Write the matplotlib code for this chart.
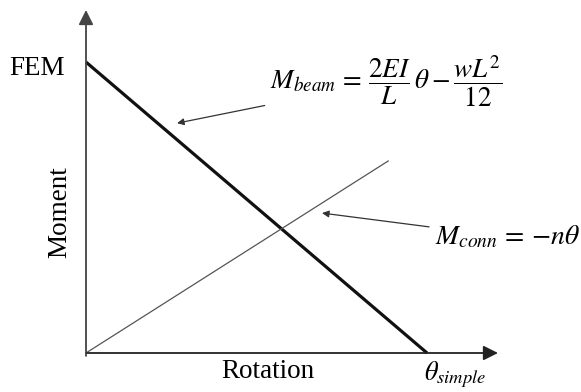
import numpy as np
import matplotlib.pyplot as plt

plt.rcParams['font.family'] = ['Liberation Serif', 'DejaVu Serif']
plt.rcParams['mathtext.fontset'] = 'stix'

# normalised values: rotation in units of theta_simple, moment in units of FEM
theta_simple = 1.0
fem = 1.0
beam_theta = [0.0, theta_simple]
beam_moment = [fem, 0.0]
conn_theta = [0.0, 0.886]
conn_moment = [0.0, 0.66]

x_max = 1.208
y_max = 1.179

fig = plt.figure(figsize=(5.81, 3.92), dpi=100)
ax = fig.add_axes([86 / 581, 39 / 392, 412 / 581, 343 / 392])
ax.set_xlim(0, x_max)
ax.set_ylim(0, y_max)
ax.axis('off')

# axes arrows
ax.annotate('', xy=(x_max, 0), xytext=(0, 0), annotation_clip=False,
            arrowprops=dict(arrowstyle='-|>', lw=1.3, color='#222',
                            mutation_scale=22, shrinkA=0, shrinkB=0))
ax.annotate('', xy=(0, y_max), xytext=(0, -0.01), annotation_clip=False,
            arrowprops=dict(arrowstyle='-|>', lw=1.3, color='#444',
                            mutation_scale=22, shrinkA=0, shrinkB=0))

ax.plot(beam_theta, beam_moment, color='#111', lw=2.3, solid_capstyle='butt', clip_on=False)
ax.plot(conn_theta, conn_moment, color='#555', lw=0.9, clip_on=False)

ax.text(-0.062, 0.979, 'FEM', ha='right', va='center', fontsize=19.5)
ax.text(-0.078, 0.485, 'Moment', ha='center', va='center', rotation=90, fontsize=19.5)
ax.text(0.533, -0.065, 'Rotation', ha='center', va='center', fontsize=19.5)
ax.text(0.99, -0.075, r'$\theta_{simple}$', ha='left', va='center', fontsize=19)

ax.annotate(r'$M_{beam}\,=\,\dfrac{2EI}{L}\,\theta - \dfrac{wL^2}{12}$',
            xy=(0.267, 0.79), xytext=(0.54, 0.935), ha='left', va='center',
            fontsize=19.5, annotation_clip=False,
            arrowprops=dict(arrowstyle='-|>', lw=0.9, color='#333',
                            mutation_scale=10, shrinkA=2, shrinkB=0))
ax.annotate(r'$M_{conn}\,=\,{-}n\theta$',
            xy=(0.692, 0.481), xytext=(1.022, 0.399), ha='left', va='center',
            fontsize=20, annotation_clip=False,
            arrowprops=dict(arrowstyle='-|>', lw=0.9, color='#333',
                            mutation_scale=10, shrinkA=2, shrinkB=0))

fig.savefig('out.png', dpi=100)
